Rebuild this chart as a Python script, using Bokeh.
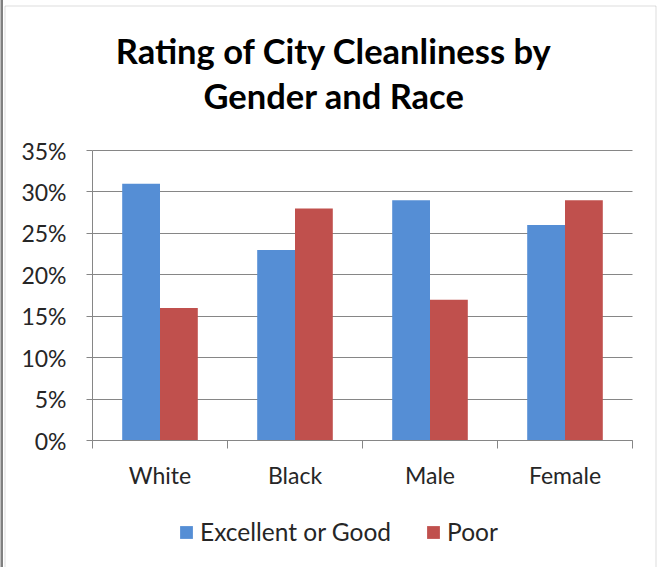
from bokeh.plotting import figure
from bokeh.models import (ColumnDataSource, FixedTicker, NumeralTickFormatter, Label,
                          Legend, LegendItem, Range1d, BoxAnnotation)
from bokeh.transform import dodge
from bokeh.embed import file_html
from bokeh.resources import INLINE

categories = ["White", "Black", "Male", "Female"]
excellent_or_good = [0.31, 0.23, 0.29, 0.26]
poor = [0.16, 0.28, 0.17, 0.29]
series_names = ["Excellent or Good", "Poor"]
y_ticks = [0, 0.05, 0.10, 0.15, 0.20, 0.25, 0.30, 0.35]
title_lines = ["Rating of City Cleanliness by", "Gender and Race"]

BLUE = "#558ED5"
RED = "#C0504D"
GRID = "#868686"
TEXT = "#262626"
FONT = "Lato"
YMAX = 0.35
NCAT = len(categories)

# layout in page pixels: where the plot area sits
X0_PX, X1_PX = 92, 632      # x = 0 .. NCAT
Y0_PX, Y1_PX = 440, 150     # y = 0 .. YMAX
OFF = 8                      # figure origin is 8px up/left of page origin
W, H = 667, 575


def dx(px):
    return (px - X0_PX) / (X1_PX - X0_PX) * NCAT


def dy(py):
    return (Y0_PX - py) / (Y0_PX - Y1_PX) * YMAX


src = ColumnDataSource(dict(
    x=[i + 0.5 for i in range(NCAT)],
    cat=categories,
    eg=excellent_or_good,
    poor=poor,
))

p = figure(width=W, height=H, output_backend="svg", toolbar_location=None,
           x_range=Range1d(dx(-OFF), dx(W - OFF)),
           y_range=Range1d(dy(H - OFF), dy(-OFF)),
           min_border=0, background_fill_color="white", border_fill_color="white")
p.margin = (-8, 0, 0, -8)
p.outline_line_color = None
p.title = None

# chart border
p.add_layout(BoxAnnotation(left=dx(4.5), right=dx(655.5), top=dy(5.5), bottom=dy(700),
                           fill_alpha=0, line_color="#8c8c8c", line_width=1, level="underlay"))
p.add_layout(BoxAnnotation(left=dx(0), right=dx(2.5), top=dy(-20), bottom=dy(700),
                           fill_color="#808080", fill_alpha=1, line_color=None, level="underlay"))

# grid limited to the plot area
p.xgrid.grid_line_color = None
p.ygrid.ticker = FixedTicker(ticks=y_ticks)
p.ygrid.grid_line_color = GRID
p.ygrid.cross_bounds = (0, NCAT)

r1 = p.vbar(x=dodge("x", -0.14, range=p.x_range), top="eg", width=0.28, source=src,
            fill_color=BLUE, line_color=None)
r2 = p.vbar(x=dodge("x", 0.14, range=p.x_range), top="poor", width=0.28, source=src,
            fill_color=RED, line_color=None)

# y axis
yax = p.yaxis[0]
yax.fixed_location = 0
yax.bounds = (0, YMAX)
yax.ticker = FixedTicker(ticks=y_ticks)
yax.formatter = NumeralTickFormatter(format="0%")
yax.major_label_text_font = FONT
yax.major_label_text_font_size = "23px"
yax.major_label_text_color = TEXT
yax.axis_line_color = GRID
yax.major_tick_line_color = GRID
yax.major_tick_out = 6
yax.major_tick_in = 0
yax.minor_tick_line_color = None
yax.major_label_standoff = 20

# x axis
xax = p.xaxis[0]
xax.fixed_location = 0
xax.bounds = (0, NCAT)
xax.ticker = FixedTicker(ticks=[i + 0.5 for i in range(NCAT)],
                         minor_ticks=list(range(NCAT + 1)))
xax.major_label_overrides = {i + 0.5: c for i, c in enumerate(categories)}
xax.major_label_text_font = FONT
xax.major_label_text_font_size = "23px"
xax.major_label_text_color = TEXT
xax.major_tick_line_color = None
xax.minor_tick_line_color = GRID
xax.minor_tick_out = 8
xax.minor_tick_in = 0
xax.axis_line_color = GRID
xax.major_label_standoff = 12

# title
for t, py in zip(title_lines, [50, 95]):
    p.add_layout(Label(x=dx(333.5), y=dy(py), text=t, text_font=FONT,
                       text_font_style="bold", text_font_size="34.5px",
                       text_color="black", text_align="center", text_baseline="middle"))

legend = Legend(items=[LegendItem(label=series_names[0], renderers=[r1]),
                       LegendItem(label=series_names[1], renderers=[r2])],
                orientation="horizontal", location=(186, 21),
                label_text_font=FONT, label_text_font_size="24.5px",
                label_text_color=TEXT, glyph_width=16, glyph_height=16,
                spacing=34, border_line_color=None, background_fill_alpha=0,
                label_standoff=6, padding=4, margin=0)
p.add_layout(legend, "center")

open("out.html", "w").write(file_html(p, INLINE))
